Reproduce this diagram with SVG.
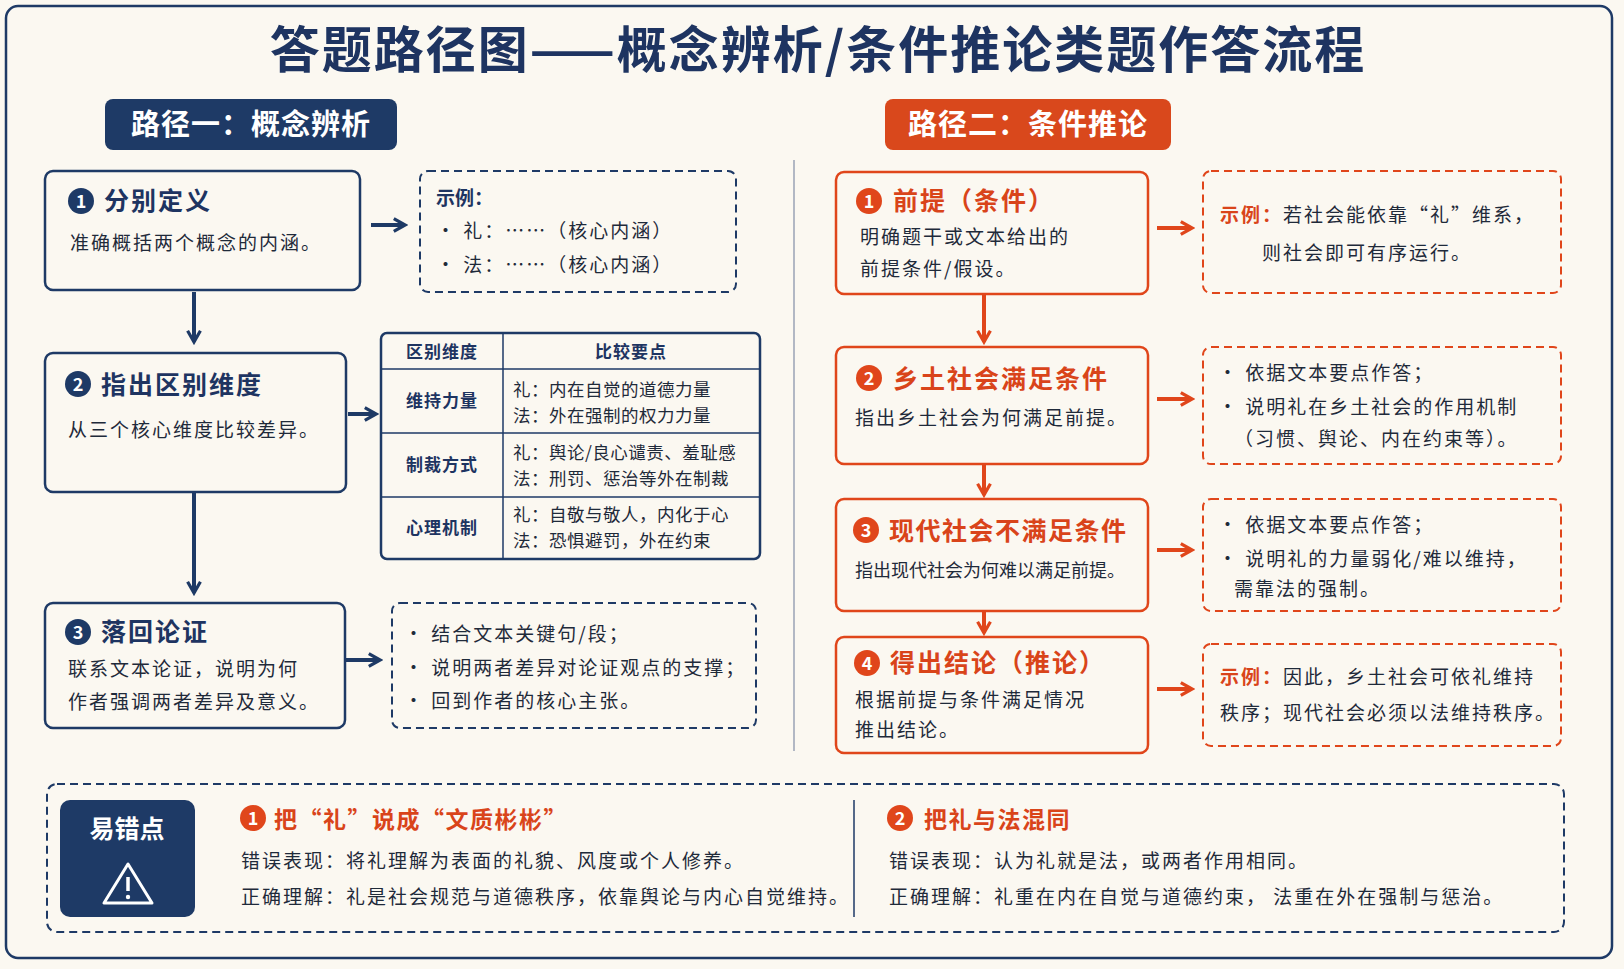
<svg xmlns="http://www.w3.org/2000/svg" width="1624" height="969" viewBox="0 0 1624 969">
<defs>
<style>
text{font-family:"Noto Sans CJK SC","Noto Sans",sans-serif;}
.t{fill:#1e3461;}
.o{fill:#d9441a;}
.w{fill:#fff;}
.body{fill:#1f2a3a;font-size:19px;letter-spacing:2px;}
.tb{fill:#1f2a3a;font-size:17.5px;letter-spacing:0.5px;}
.nb{fill:none;stroke:#1e3a66;stroke-width:2.5;}
.ob{fill:none;stroke:#e0461b;stroke-width:2.5;}
.nd{fill:none;stroke:#1e3a66;stroke-width:2;stroke-dasharray:8 5;}
.od{fill:none;stroke:#e0461b;stroke-width:2;stroke-dasharray:8 5;}
.nl{stroke:#1e3a66;stroke-width:4;fill:none;}
.ol{stroke:#e0461b;stroke-width:4;fill:none;}
</style>
<marker id="an" viewBox="0 0 10 10" refX="8" refY="5" markerWidth="4" markerHeight="4" orient="auto"><path d="M1,1 L8,5 L1,9" fill="none" stroke="#1e3a66" stroke-width="2"/></marker>
<marker id="ao" viewBox="0 0 10 10" refX="8" refY="5" markerWidth="4" markerHeight="4" orient="auto"><path d="M1,1 L8,5 L1,9" fill="none" stroke="#e0461b" stroke-width="2"/></marker>
</defs>
<rect x="0" y="0" width="1624" height="969" fill="#fbf8f1"/>
<rect x="6" y="6" width="1606" height="952" rx="12" fill="#fbf8f1" stroke="#1e3a66" stroke-width="2.5"/>
<text x="818" y="68" text-anchor="middle" class="t" font-size="50" font-weight="700" letter-spacing="2">答题路径图——概念辨析/条件推论类题作答流程</text>

<g id="header-left"><rect x="105" y="99" width="292" height="51" rx="8" fill="#1e3a66"/><text x="251" y="135" text-anchor="middle" class="w" font-size="29" font-weight="700" letter-spacing="1">路径一：概念辨析</text></g>
<g id="header-right"><rect x="885" y="99" width="286" height="51" rx="8" fill="#d9481c"/><text x="1028" y="135" text-anchor="middle" class="w" font-size="29" font-weight="700" letter-spacing="1">路径二：条件推论</text></g>
<line x1="794" y1="160" x2="794" y2="751" stroke="#9aa3b5" stroke-width="1.5"/>

<g id="L1"><rect class="nb" x="45" y="171" width="315" height="119" rx="8"/>
<circle cx="81" cy="201" r="13" fill="#1e3a66"/><text x="81" y="208" text-anchor="middle" class="w" font-size="18" font-weight="700">1</text>
<text x="104" y="210" class="t" font-size="25" font-weight="700" letter-spacing="2">分别定义</text>
<text x="70" y="250" class="body">准确概括两个概念的内涵。</text></g>
<g id="L1ex"><rect class="nd" x="420" y="171" width="316" height="121" rx="8"/>
<text x="436" y="205" class="t" font-size="19" font-weight="700">示例：</text>
<text x="436" y="238" class="body">• 礼：……（核心内涵）</text>
<text x="436" y="272" class="body">• 法：……（核心内涵）</text></g>

<g id="L2"><rect class="nb" x="45" y="353" width="301" height="139" rx="8"/>
<circle cx="78" cy="384" r="13" fill="#1e3a66"/><text x="78" y="391" text-anchor="middle" class="w" font-size="18" font-weight="700">2</text>
<text x="101" y="394" class="t" font-size="25" font-weight="700" letter-spacing="2">指出区别维度</text>
<text x="68" y="437" class="body">从三个核心维度比较差异。</text></g>
<g id="L2table"><rect class="nb" x="381" y="333" width="379" height="226" rx="6" stroke-width="1.8"/>
<g stroke="#1e3a66" stroke-width="1.5"><line x1="503" y1="333" x2="503" y2="559"/><line x1="381" y1="369" x2="760" y2="369"/><line x1="381" y1="433" x2="760" y2="433"/><line x1="381" y1="497" x2="760" y2="497"/></g>
<g class="t" font-size="17" font-weight="700" text-anchor="middle" letter-spacing="1"><text x="442" y="358">区别维度</text><text x="631" y="358">比较要点</text><text x="442" y="407">维持力量</text><text x="442" y="471">制裁方式</text><text x="442" y="534">心理机制</text></g>
<g class="tb"><text x="513" y="396">礼：内在自觉的道德力量</text><text x="513" y="422">法：外在强制的权力力量</text><text x="513" y="459">礼：舆论/良心谴责、羞耻感</text><text x="513" y="485">法：刑罚、惩治等外在制裁</text><text x="513" y="521">礼：自敬与敬人，内化于心</text><text x="513" y="547">法：恐惧避罚，外在约束</text></g></g>

<g id="L3"><rect class="nb" x="45" y="603" width="300" height="125" rx="8"/>
<circle cx="78" cy="632" r="13" fill="#1e3a66"/><text x="78" y="639" text-anchor="middle" class="w" font-size="18" font-weight="700">3</text>
<text x="101" y="641" class="t" font-size="25" font-weight="700" letter-spacing="2">落回论证</text>
<text x="68" y="676" class="body">联系文本论证，说明为何</text>
<text x="68" y="709" class="body" letter-spacing="1.5">作者强调两者差异及意义。</text></g>
<g id="L3ex"><rect class="nd" x="392" y="603" width="364" height="125" rx="8"/>
<text x="404" y="641" class="body">• 结合文本关键句/段；</text>
<text x="404" y="675" class="body" letter-spacing="1">• 说明两者差异对论证观点的支撑；</text>
<text x="404" y="708" class="body">• 回到作者的核心主张。</text></g>

<g id="R1"><rect class="ob" x="836" y="172" width="312" height="122" rx="8"/>
<circle cx="869" cy="201" r="13" fill="#e0461b"/><text x="869" y="208" text-anchor="middle" class="w" font-size="18" font-weight="700">1</text>
<text x="893" y="210" class="o" font-size="25" font-weight="700" letter-spacing="2">前提（条件）</text>
<text x="860" y="244" class="body">明确题干或文本给出的</text>
<text x="860" y="276" class="body">前提条件/假设。</text></g>
<g id="R1ex"><rect class="od" x="1203" y="171" width="358" height="122" rx="8"/>
<text x="1220" y="222" class="body" letter-spacing="1.5"><tspan class="o" font-weight="700">示例：</tspan>若社会能依靠“礼”维系，</text>
<text x="1262" y="260" class="body">则社会即可有序运行。</text></g>

<g id="R2"><rect class="ob" x="836" y="347" width="312" height="117" rx="8"/>
<circle cx="869" cy="378" r="13" fill="#e0461b"/><text x="869" y="385" text-anchor="middle" class="w" font-size="18" font-weight="700">2</text>
<text x="893" y="388" class="o" font-size="25" font-weight="700" letter-spacing="2">乡土社会满足条件</text>
<text x="855" y="425" class="body" letter-spacing="1">指出乡土社会为何满足前提。</text></g>
<g id="R2ex"><rect class="od" x="1203" y="347" width="358" height="117" rx="8"/>
<text x="1218" y="380" class="body">• 依据文本要点作答；</text>
<text x="1218" y="414" class="body" letter-spacing="1.5">• 说明礼在乡土社会的作用机制</text>
<text x="1234" y="446" class="body" letter-spacing="1.5">（习惯、舆论、内在约束等）。</text></g>

<g id="R3"><rect class="ob" x="836" y="499" width="312" height="112" rx="8"/>
<circle cx="866" cy="530" r="13" fill="#e0461b"/><text x="866" y="537" text-anchor="middle" class="w" font-size="18" font-weight="700">3</text>
<text x="889" y="540" class="o" font-size="25" font-weight="700" letter-spacing="1.5">现代社会不满足条件</text>
<text x="855" y="577" class="body" style="font-size:18px;letter-spacing:0px">指出现代社会为何难以满足前提。</text></g>
<g id="R3ex"><rect class="od" x="1203" y="499" width="358" height="112" rx="8"/>
<text x="1218" y="532" class="body">• 依据文本要点作答；</text>
<text x="1218" y="566" class="body" letter-spacing="1.5">• 说明礼的力量弱化/难以维持，</text>
<text x="1234" y="596" class="body">需靠法的强制。</text></g>

<g id="R4"><rect class="ob" x="836" y="637" width="312" height="116" rx="8"/>
<circle cx="867" cy="663" r="13" fill="#e0461b"/><text x="867" y="670" text-anchor="middle" class="w" font-size="18" font-weight="700">4</text>
<text x="890" y="672" class="o" font-size="25" font-weight="700" letter-spacing="2">得出结论（推论）</text>
<text x="855" y="707" class="body">根据前提与条件满足情况</text>
<text x="855" y="737" class="body">推出结论。</text></g>
<g id="R4ex"><rect class="od" x="1203" y="644" width="358" height="102" rx="8"/>
<text x="1220" y="684" class="body" letter-spacing="1.5"><tspan class="o" font-weight="700">示例：</tspan>因此，乡土社会可依礼维持</text>
<text x="1220" y="720" class="body" letter-spacing="1">秩序；现代社会必须以法维持秩序。</text></g>

<g id="connectors">
<path class="nl" d="M371 225 H405" marker-end="url(#an)"/>
<path class="nl" d="M194 292 V342" marker-end="url(#an)"/>
<path class="nl" d="M348 414 H376" marker-end="url(#an)"/>
<path class="nl" d="M194 492 V593" marker-end="url(#an)"/>
<path class="nl" d="M345 660 H380" marker-end="url(#an)"/>
<path class="ol" d="M1157 228 H1192" marker-end="url(#ao)"/>
<path class="ol" d="M984 294 V342" marker-end="url(#ao)"/>
<path class="ol" d="M1157 399 H1192" marker-end="url(#ao)"/>
<path class="ol" d="M984 464 V495" marker-end="url(#ao)"/>
<path class="ol" d="M1157 550 H1192" marker-end="url(#ao)"/>
<path class="ol" d="M984 611 V633" marker-end="url(#ao)"/>
<path class="ol" d="M1157 689 H1192" marker-end="url(#ao)"/>
</g>

<g id="pitfalls"><rect class="nd" x="47" y="784" width="1517" height="148" rx="10"/>
<rect x="60" y="800" width="135" height="117" rx="10" fill="#1e3a66"/>
<text x="127" y="838" text-anchor="middle" class="w" font-size="25" font-weight="700">易错点</text>
<path d="M128 864 L104 903 H152 Z" fill="none" stroke="#fff" stroke-width="3" stroke-linejoin="round"/>
<line x1="128" y1="877" x2="128" y2="891" stroke="#fff" stroke-width="3.5"/><circle cx="128" cy="897" r="2.2" fill="#fff"/>
<circle cx="253" cy="818" r="13" fill="#e0461b"/><text x="253" y="825" text-anchor="middle" class="w" font-size="18" font-weight="700">1</text>
<text x="274" y="828" class="o" font-size="23" font-weight="700" letter-spacing="1.5">把“礼”说成“文质彬彬”</text>
<text x="241" y="868" class="body" font-size="18" letter-spacing="1.5">错误表现：将礼理解为表面的礼貌、风度或个人修养。</text>
<text x="241" y="904" class="body" font-size="18" letter-spacing="1.5">正确理解：礼是社会规范与道德秩序，依靠舆论与内心自觉维持。</text>
<line x1="854" y1="800" x2="854" y2="917" stroke="#1e3a66" stroke-width="1.5"/>
<circle cx="900" cy="818" r="13" fill="#e0461b"/><text x="900" y="825" text-anchor="middle" class="w" font-size="18" font-weight="700">2</text>
<text x="924" y="828" class="o" font-size="23" font-weight="700" letter-spacing="1.5">把礼与法混同</text>
<text x="889" y="868" class="body" font-size="18" letter-spacing="1.5">错误表现：认为礼就是法，或两者作用相同。</text>
<text x="889" y="904" class="body" font-size="18" letter-spacing="1.5">正确理解：礼重在内在自觉与道德约束， 法重在外在强制与惩治。</text></g>
</svg>
